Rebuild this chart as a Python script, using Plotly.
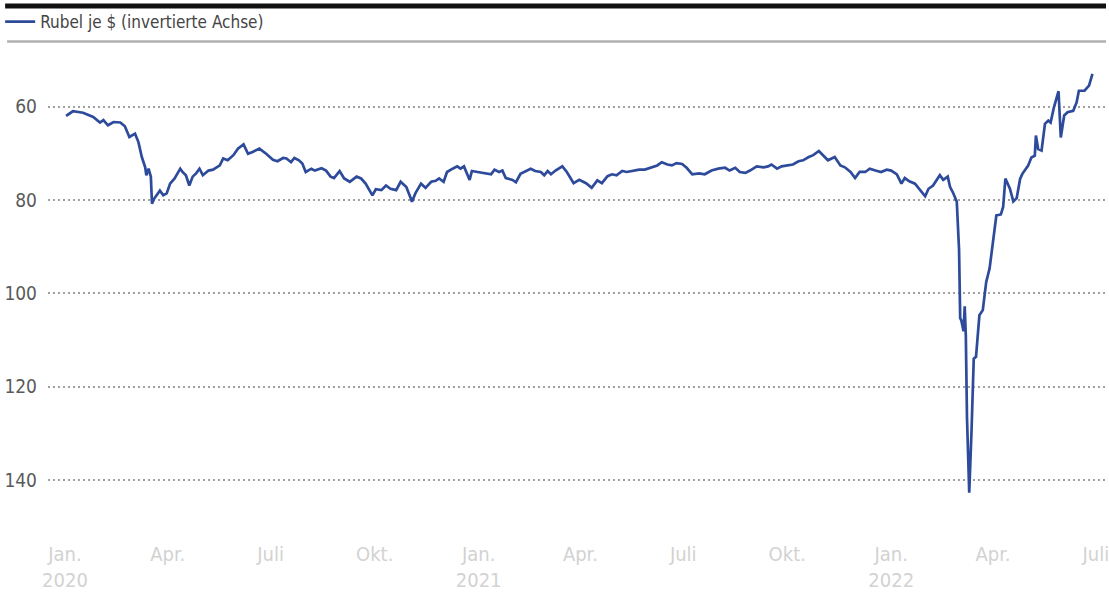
import plotly.graph_objects as go

dates = [
    "2020-01-02","2020-01-08","2020-01-17","2020-01-26","2020-02-01","2020-02-04","2020-02-08","2020-02-13",
    "2020-02-19","2020-02-23","2020-02-27","2020-03-03","2020-03-06","2020-03-09","2020-03-12","2020-03-13",
    "2020-03-15","2020-03-17","2020-03-18","2020-03-20","2020-03-25","2020-03-28","2020-03-31","2020-04-03",
    "2020-04-07","2020-04-12","2020-04-14","2020-04-17","2020-04-20","2020-04-23","2020-04-26","2020-04-29",
    "2020-05-02","2020-05-07","2020-05-11","2020-05-17","2020-05-20","2020-05-24","2020-05-29","2020-06-02",
    "2020-06-07","2020-06-11","2020-06-15","2020-06-21","2020-06-27","2020-07-03","2020-07-07","2020-07-12",
    "2020-07-15","2020-07-19","2020-07-22","2020-07-26","2020-07-29","2020-08-01","2020-08-06","2020-08-09",
    "2020-08-15","2020-08-19","2020-08-23","2020-08-26","2020-08-31","2020-09-04","2020-09-09","2020-09-15",
    "2020-09-19","2020-09-23","2020-09-29","2020-10-02","2020-10-07","2020-10-11","2020-10-15","2020-10-20",
    "2020-10-24","2020-10-29","2020-11-02","2020-11-03","2020-11-06","2020-11-11","2020-11-15","2020-11-20",
    "2020-11-24","2020-11-27","2020-12-01","2020-12-04","2020-12-09","2020-12-13","2020-12-16","2020-12-19",
    "2020-12-24","2020-12-26","2020-12-31",
    "2021-01-06","2021-01-12","2021-01-15","2021-01-19","2021-01-22","2021-01-25","2021-01-31","2021-02-03",
    "2021-02-07","2021-02-12","2021-02-16","2021-02-20","2021-02-25","2021-02-28","2021-03-03","2021-03-06",
    "2021-03-10","2021-03-16","2021-03-20","2021-03-26","2021-03-31","2021-04-06","2021-04-11","2021-04-16",
    "2021-04-20","2021-04-25","2021-04-29","2021-05-03","2021-05-08","2021-05-12","2021-05-17","2021-05-23",
    "2021-05-28","2021-06-03","2021-06-08","2021-06-12","2021-06-17","2021-06-21","2021-06-25","2021-06-30",
    "2021-07-04","2021-07-09","2021-07-15","2021-07-20","2021-07-26","2021-08-01","2021-08-07","2021-08-11",
    "2021-08-16","2021-08-20","2021-08-25","2021-08-29","2021-09-04","2021-09-10","2021-09-14","2021-09-17",
    "2021-09-22","2021-09-26","2021-10-01","2021-10-06","2021-10-11","2021-10-15","2021-10-20","2021-10-24",
    "2021-10-29","2021-11-02","2021-11-06","2021-11-12","2021-11-17","2021-11-21","2021-11-26","2021-11-30",
    "2021-12-04","2021-12-09","2021-12-13","2021-12-18","2021-12-23","2021-12-28",
    "2022-01-01","2022-01-06","2022-01-10","2022-01-13","2022-01-17","2022-01-22","2022-01-26","2022-01-31",
    "2022-02-03","2022-02-07","2022-02-13","2022-02-16","2022-02-20","2022-02-22","2022-02-25","2022-02-28",
    "2022-03-02","2022-03-03","2022-03-04","2022-03-06","2022-03-07","2022-03-08","2022-03-09","2022-03-11",
    "2022-03-13","2022-03-15","2022-03-17","2022-03-20","2022-03-23","2022-03-26","2022-03-29","2022-04-01",
    "2022-04-04","2022-04-08","2022-04-10","2022-04-12","2022-04-16","2022-04-19","2022-04-22","2022-04-25",
    "2022-04-27","2022-05-02","2022-05-05","2022-05-08","2022-05-09","2022-05-11","2022-05-14","2022-05-17",
    "2022-05-20","2022-05-22","2022-05-25","2022-05-29","2022-05-31","2022-06-03","2022-06-06","2022-06-11",
    "2022-06-14","2022-06-16","2022-06-21","2022-06-25","2022-06-28",
]

rub_per_usd = [
    62.0, 61.0, 61.3, 62.2, 63.4, 62.9, 64.0, 63.3,
    63.4, 64.2, 66.5, 65.8, 67.6, 70.8, 73.0, 74.7,
    73.3, 75.0, 80.8, 79.7, 78.0, 79.0, 78.6, 76.5,
    75.4, 73.3, 74.0, 74.7, 76.9, 75.0, 74.3, 73.3,
    74.7, 73.7, 73.5, 72.6, 71.1, 71.5, 70.4, 69.0,
    68.1, 70.1, 69.7, 69.0, 70.1, 71.4, 71.7, 71.0,
    71.1, 71.9, 71.0, 71.5, 72.2, 74.0, 73.3, 73.7,
    73.2, 73.7, 75.0, 75.3, 73.8, 75.4, 76.1, 75.0,
    75.4, 76.5, 79.0, 77.7, 77.9, 76.9, 77.6, 77.9,
    76.1, 77.2, 79.7, 80.4, 78.6, 76.5, 77.4, 76.1,
    75.9, 75.4, 76.1, 74.0, 73.3, 72.8, 73.3, 72.8,
    75.7, 73.8, 74.0,
    74.2, 74.5, 73.5, 74.0, 73.7, 75.3, 75.7, 76.2,
    74.4, 73.7, 73.3, 73.8, 74.0, 74.7, 73.8, 74.5,
    73.7, 72.8, 74.0, 76.4, 75.7, 76.4, 77.4, 75.8,
    76.4, 74.9, 74.5, 74.7, 73.8, 74.0, 73.7, 73.5,
    73.5, 73.0, 72.6, 71.9, 72.4, 72.6, 72.1, 72.3,
    73.1, 74.5, 74.3, 74.5, 73.7, 73.3, 73.1, 73.7,
    73.1, 74.0, 74.2, 73.7, 72.8, 73.0, 72.8, 72.4,
    73.3, 72.8, 72.6, 72.4, 71.7, 71.5, 70.8, 70.4,
    69.5, 70.6, 71.5, 70.8, 72.6, 73.0, 74.0, 75.3,
    74.0, 74.0, 73.3, 73.7, 74.0, 73.5,
    73.7, 74.5, 76.5, 75.3, 76.0, 76.5, 77.6, 79.2,
    77.6, 76.9, 74.7, 75.7, 75.0, 77.2, 78.6, 80.4,
    90.7, 105.3, 105.8, 108.1, 102.8, 109.2, 126.4, 142.7,
    129.7, 114.0, 113.6, 104.7, 103.6, 97.6, 94.7, 89.0,
    83.3, 83.1, 81.5, 75.4, 77.6, 80.3, 79.6, 75.5,
    74.4, 72.7, 70.9, 70.5, 66.2, 69.1, 69.4, 63.7,
    63.0, 63.4, 60.1, 56.7, 66.6, 61.9, 61.2, 60.9,
    59.1, 56.6, 56.6, 55.5, 53.0,
]

tick_dates = ["2020-01-01","2020-04-01","2020-07-01","2020-10-01",
              "2021-01-01","2021-04-01","2021-07-01","2021-10-01",
              "2022-01-01","2022-04-01","2022-07-01"]
tick_labels = ["Jan.<br>2020","Apr.","Juli","Okt.",
               "Jan.<br>2021","Apr.","Juli","Okt.",
               "Jan.<br>2022","Apr.","Juli"]
y_ticks = [60, 80, 100, 120, 140]

FONT = "DejaVu Sans Condensed, Liberation Sans Narrow, sans-serif"

fig = go.Figure()
fig.add_trace(go.Scatter(
    x=dates, y=rub_per_usd, mode="lines",
    name="Rubel je $ (invertierte Achse)",
    line=dict(color="#2d4b9a", width=2.7),
))

W, H = 1109, 592
ml, mr, mt, mb = 48, 0, 45, 62
pw, ph = W - ml - mr, H - mt - mb

def px_to_paper_y(y):
    return (H - mb - y) / ph

def px_to_paper_x(x):
    return (x - ml) / pw

fig.update_layout(
    width=W, height=H,
    margin=dict(l=ml, r=mr, t=mt, b=mb),
    paper_bgcolor="white", plot_bgcolor="white",
    font=dict(family=FONT, color="#555555"),
    showlegend=True,
    legend=dict(
        x=px_to_paper_x(0), y=px_to_paper_y(22), xanchor="left", yanchor="middle",
        font=dict(size=17, color="#444444", family=FONT),
        bgcolor="rgba(0,0,0,0)", borderwidth=0,
    ),
    xaxis=dict(
        type="date",
        range=["2019-12-17", "2022-07-10"],
        tickvals=tick_dates, ticktext=tick_labels,
        showgrid=False, zeroline=False, showline=False,
        ticks="", tickfont=dict(size=20, color="#d2d2d2", family=FONT),
        ticklabelstandoff=10, ticklabeloverflow="allow",
    ),
    yaxis=dict(
        range=[150.7, 46.8],
        tickvals=y_ticks,
        showgrid=True, gridcolor="#a0a0a0", gridwidth=2, griddash="2px,3px",
        zeroline=False, showline=False, ticks="",
        tickfont=dict(size=19, color="#5a5a5a", family=FONT),
        ticklabelstandoff=10,
    ),
    shapes=[
        dict(type="line", xref="paper", yref="paper",
             x0=px_to_paper_x(5), x1=px_to_paper_x(W), y0=px_to_paper_y(6), y1=px_to_paper_y(6),
             line=dict(color="#111111", width=5)),
        dict(type="line", xref="paper", yref="paper",
             x0=px_to_paper_x(7), x1=px_to_paper_x(W), y0=px_to_paper_y(41.5), y1=px_to_paper_y(41.5),
             line=dict(color="#b0b0b0", width=2.5)),
    ],
)

fig.write_html("out.html")
